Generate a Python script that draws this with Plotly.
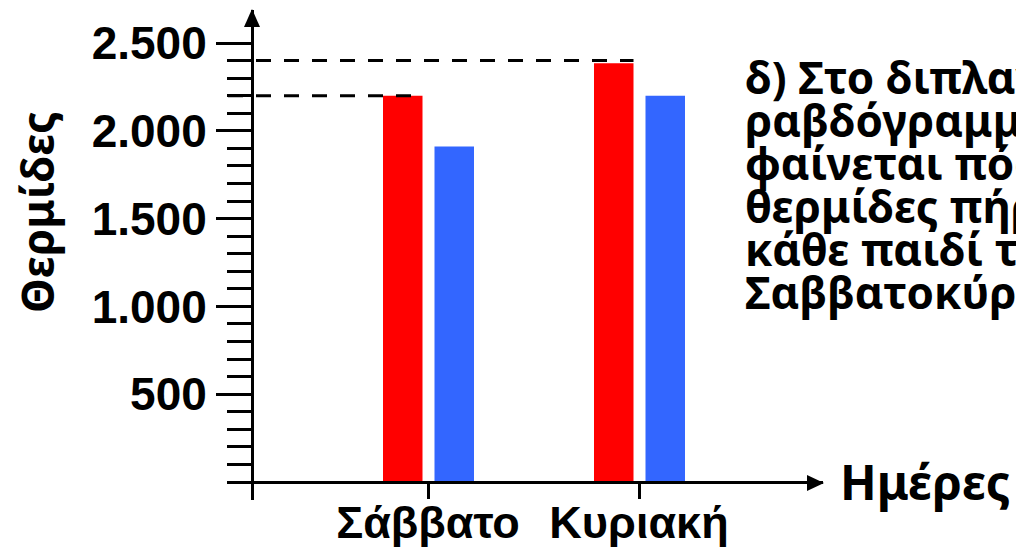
import plotly.graph_objects as go

# ---- data ----
categories = ["Σάββατο", "Κυριακή"]
red_values = [2200, 2385]
blue_values = [1910, 2200]
guide_values = [2200, 2400]
y_major_ticks = [500, 1000, 1500, 2000, 2500]
y_major_labels = ["500", "1.000", "1.500", "2.000", "2.500"]
y_minor_ticks = [100, 200, 300, 400, 600, 700, 800, 900, 1100, 1200, 1300, 1400,
                 1600, 1700, 1800, 1900, 2100, 2200, 2300, 2400]
y_title = "Θερμίδες"
x_title = "Ημέρες"
note_lines = ["δ) Στο διπλανό", "ραβδόγραμμα", "φαίνεται πόσες",
              "θερμίδες πήρε", "κάθε παιδί το", "Σαββατοκύριακο."]

# ---- geometry (pixels) ----
W, H = 1016, 549
L, R, T, B = 227, 823, 10, 500
cat_px0, cat_step = 428, 211           # pixel of first category, px per category
y0_px, k = 482, 0.1756                 # pixel of value 0, px per unit
xpos = list(range(len(categories)))

x_range = [(L - cat_px0) / cat_step, (R - cat_px0) / cat_step]
y_range = [-(B - y0_px) / k, (y0_px - T) / k]
pw, ph = R - L, B - T

def px_x(p):
    return (p - L) / pw

def px_y(p):
    return (B - p) / ph

bar_w = 39.5 / cat_step
red_off = -45 / cat_step
blue_off = 6.5 / cat_step

fig = go.Figure()
fig.add_trace(go.Bar(x=xpos, y=red_values, width=bar_w, offset=red_off,
                     marker=dict(color="#FF0000", line=dict(width=0)), showlegend=False))
fig.add_trace(go.Bar(x=xpos, y=blue_values, width=bar_w, offset=blue_off,
                     marker=dict(color="#3366FF", line=dict(width=0)), showlegend=False))

shapes = []
for i, g in enumerate(guide_values):
    shapes.append(dict(type="line", xref="x", yref="y",
                       x0=(228 - cat_px0) / cat_step, x1=xpos[i] + red_off + bar_w,
                       y0=g, y1=g, line=dict(color="black", width=3, dash="15px,13px")))
# arrowheads
shapes.append(dict(type="path", xref="paper", yref="paper", fillcolor="black",
                   line=dict(width=0),
                   path=f"M {px_x(252)},{px_y(9)} L {px_x(244)},{px_y(27)} L {px_x(260)},{px_y(27)} Z"))
shapes.append(dict(type="path", xref="paper", yref="paper", fillcolor="black",
                   line=dict(width=0),
                   path=f"M {px_x(824)},{px_y(483)} L {px_x(807)},{px_y(475)} L {px_x(807)},{px_y(491)} Z"))

annotations = [
    dict(text=f"<b>{y_title}</b>", xref="paper", yref="paper", x=px_x(37), y=px_y(212),
         xanchor="center", yanchor="middle", textangle=-90, showarrow=False,
         font=dict(family="Noto Sans", size=44, color="black")),
    dict(text=f"<b>{x_title}</b>", xref="paper", yref="paper", x=px_x(838), y=px_y(481),
         xanchor="left", yanchor="middle", showarrow=False,
         font=dict(family="Noto Sans", size=48, color="black")),
]
for i, line in enumerate(note_lines):
    annotations.append(dict(text=f"<b>{line}</b>", xref="paper", yref="paper",
                            x=px_x(743), y=px_y(77 + 43 * i), xanchor="left", yanchor="middle",
                            showarrow=False, align="left",
                            font=dict(family="Noto Sans", size=44, color="black")))

fig.update_layout(
    width=W, height=H,
    margin=dict(l=L, r=W - R, t=T, b=H - B, autoexpand=False),
    plot_bgcolor="white", paper_bgcolor="white",
    shapes=shapes, annotations=annotations,
    xaxis=dict(range=x_range, anchor="free", position=px_y(y0_px),
               showline=True, linecolor="black", linewidth=3,
               tickmode="array", tickvals=xpos, ticktext=categories,
               ticks="outside", ticklen=15, tickwidth=3, tickcolor="black",
               ticklabelstandoff=-15,
               showgrid=False, zeroline=False,
               tickfont=dict(family="Liberation Sans", size=45, color="black", weight="bold")),
    yaxis=dict(range=y_range, anchor="free", position=px_x(252),
               showline=True, linecolor="black", linewidth=3,
               tickmode="array", tickvals=y_major_ticks, ticktext=y_major_labels,
               ticks="outside", ticklen=35, tickwidth=3, tickcolor="black",
               minor=dict(tickmode="array", tickvals=y_minor_ticks, ticks="outside",
                          ticklen=24, tickwidth=3, tickcolor="black", showgrid=False),
               showgrid=False, zeroline=False,
               tickfont=dict(family="Liberation Sans", size=46, color="black", weight="bold")),
)

fig.write_html("out.html", config={"displayModeBar": False},
               post_script="document.body.style.margin='0';document.body.style.overflow='hidden';")
